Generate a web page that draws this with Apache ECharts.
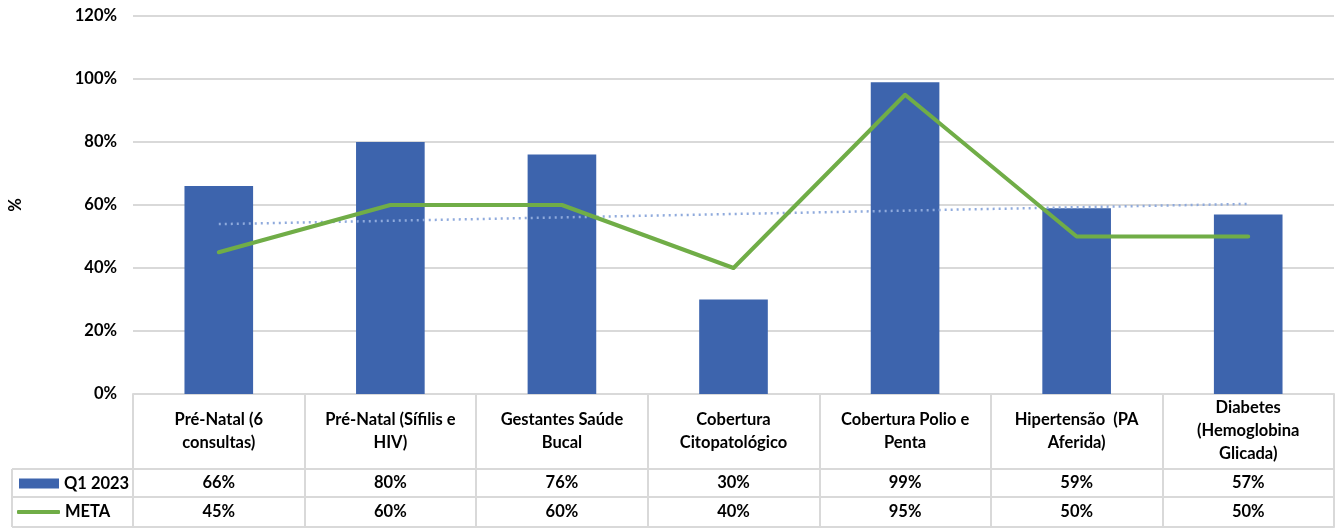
<!DOCTYPE html>
<html><head><meta charset="utf-8">
<script src="https://cdn.jsdelivr.net/npm/echarts@6/dist/echarts.min.js"></script>
<style>html,body{margin:0;padding:0;background:#fff}#c{width:1335px;height:529px}</style>
</head><body><div id="c"></div>
<script>
const categories = ['Pré-Natal (6\nconsultas)', 'Pré-Natal (Sífilis e\nHIV)', 'Gestantes Saúde\nBucal', 'Cobertura\nCitopatológico', 'Cobertura Polio e\nPenta', 'Hipertensão  (PA\nAferida)', 'Diabetes\n(Hemoglobina\nGlicada)'];
const q1 = [66, 80, 76, 30, 99, 59, 57];
const meta = [45, 60, 60, 40, 95, 50, 50];
const seriesNames = ['Q1 2023', 'META'];
const yMax = 120, yStep = 20;

// Linear trendline of META (as in the original chart)
function linearTrend(arr) {
  const n = arr.length;
  let sx = 0, sy = 0, sxy = 0, sxx = 0;
  arr.forEach((y, i) => { const x = i + 1; sx += x; sy += y; sxy += x * y; sxx += x * x; });
  const b = (n * sxy - sx * sy) / (n * sxx - sx * sx);
  const a = (sy - b * sx) / n;
  return arr.map((_, i) => +(a + b * (i + 1)).toFixed(3));
}
const trend = linearTrend(meta);

const FONT = 'Lato';
const GRID = { left: 133, right: 1, top: 16, bottom: 135, outerBoundsMode: 'none', containLabel: false };
const H = 529, W = 1335;
const plotBottom = H - GRID.bottom; // 394
const headerH = 75, rowH = 28, row2H = 30;
const lineCol = '#d9d9d9';
const txt = { fontFamily: FONT, fontWeight: 'bold', fontSize: 16.5, color: '#000' };

const chart = echarts.init(document.getElementById('c'), null, { renderer: 'canvas' });
const pct = v => v + '%';

chart.setOption({
  animation: false,
  backgroundColor: '#fff',
  grid: GRID,
  legend: [
    { data: [{ name: seriesNames[0], icon: 'rect' }], left: 19, top: plotBottom + headerH + 6, padding: 0, itemWidth: 40, itemHeight: 10, itemGap: 4,
      textStyle: txt, selectedMode: false },
    { data: [{ name: seriesNames[1], icon: 'roundRect' }], left: 17, top: plotBottom + headerH + rowH + 6.5, padding: 0, itemWidth: 43, itemHeight: 4, itemGap: 3,
      textStyle: txt, selectedMode: false }
  ],
  xAxis: [
    { type: 'category', data: categories, position: 'bottom',
      axisLine: { show: true, lineStyle: { color: lineCol, width: 2 } },
      axisTick: { show: true, length: headerH, interval: 0, lineStyle: { color: lineCol, width: 2 } },
      axisLabel: Object.assign({}, txt, { interval: 0, margin: 37, verticalAlign: 'middle', lineHeight: 23, align: 'center' }) },
    { type: 'category', data: categories, position: 'bottom', offset: headerH,
      axisLine: { show: true, lineStyle: { color: lineCol, width: 2 } },
      axisTick: { show: true, length: rowH, interval: 0, lineStyle: { color: lineCol, width: 2 } },
      axisLabel: Object.assign({}, txt, { interval: 0, margin: 14, verticalAlign: 'middle', formatter: (v, i) => pct(q1[i]) }) },
    { type: 'category', data: categories, position: 'bottom', offset: headerH + rowH,
      axisLine: { show: true, lineStyle: { color: lineCol, width: 2 } },
      axisTick: { show: true, length: row2H, interval: 0, lineStyle: { color: lineCol, width: 2 } },
      axisLabel: Object.assign({}, txt, { interval: 0, margin: 15, verticalAlign: 'middle', formatter: (v, i) => pct(meta[i]) }) },
    { type: 'category', data: categories, position: 'bottom', offset: headerH + rowH + row2H,
      axisLine: { show: true, lineStyle: { color: lineCol, width: 2 } },
      axisTick: { show: false }, axisLabel: { show: false } }
  ],
  yAxis: {
    type: 'value', min: 0, max: yMax, interval: yStep,
    name: '%', nameLocation: 'middle', nameGap: 109, nameRotate: 90,
    nameTextStyle: txt,
    axisLine: { show: false }, axisTick: { show: false },
    axisLabel: Object.assign({}, txt, { margin: 16, formatter: '{value}%' }),
    splitLine: { lineStyle: { color: lineCol, width: 2 } }
  },
  series: [
    { name: seriesNames[0], type: 'bar', data: q1, barWidth: '40%', itemStyle: { color: '#3d64ad' }, z: 2 },
    { name: 'trend', type: 'line', data: trend, symbol: 'none', lineStyle: { color: '#8faadc', width: 2.5, type: [2, 4] }, z: 3 },
    { name: seriesNames[1], type: 'line', data: meta, symbol: 'none', itemStyle: { color: '#70ad47' }, lineStyle: { color: '#70ad47', width: 4, cap: 'round', join: 'round' }, z: 4 }
  ],
  graphic: [
    { type: 'line', shape: { x1: 12, y1: plotBottom + headerH, x2: GRID.left, y2: plotBottom + headerH }, style: { stroke: lineCol, lineWidth: 2 } },
    { type: 'line', shape: { x1: 12, y1: plotBottom + headerH + rowH, x2: GRID.left, y2: plotBottom + headerH + rowH }, style: { stroke: lineCol, lineWidth: 2 } },
    { type: 'line', shape: { x1: 12, y1: plotBottom + headerH + rowH + row2H, x2: GRID.left, y2: plotBottom + headerH + rowH + row2H }, style: { stroke: lineCol, lineWidth: 2 } },
    { type: 'line', shape: { x1: 12, y1: plotBottom + headerH, x2: 12, y2: plotBottom + headerH + rowH + row2H }, style: { stroke: lineCol, lineWidth: 2 } },
    { type: 'line', shape: { x1: GRID.left, y1: plotBottom, x2: GRID.left, y2: plotBottom + headerH + rowH + row2H }, style: { stroke: lineCol, lineWidth: 2 } }
  ]
});
</script></body></html>
